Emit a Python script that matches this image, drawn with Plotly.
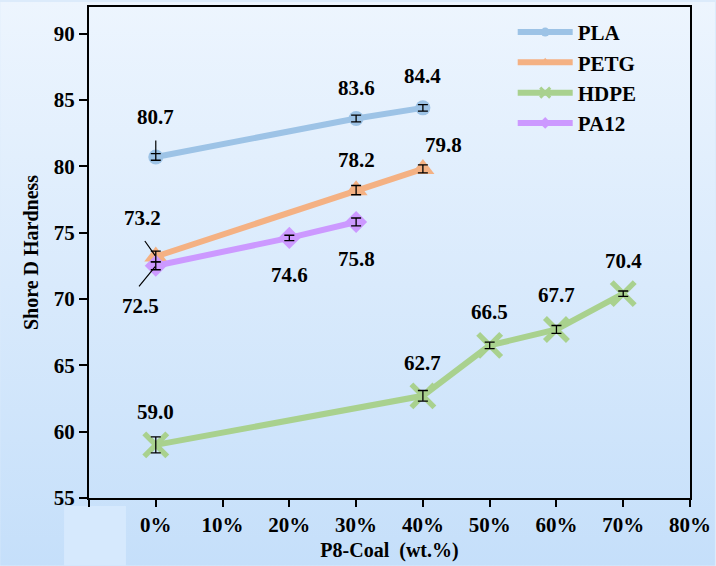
import base64
import plotly.graph_objects as go

# Shore D hardness vs. P8-Coal loading (wt.%)
pla_x = [0, 30, 40]
pla_y = [80.7, 83.6, 84.4]
pla_err = [0.25, 0.25, 0.25]

petg_x = [0, 30, 40]
petg_y = [73.2, 78.2, 79.8]
petg_err = [0.4, 0.35, 0.3]

hdpe_x = [0, 40, 50, 60, 70]
hdpe_y = [59.0, 62.7, 66.5, 67.7, 70.4]
hdpe_err = [0.6, 0.4, 0.25, 0.3, 0.2]

pa12_x = [0, 20, 30]
pa12_y = [72.5, 74.6, 75.8]
pa12_err = [0.3, 0.2, 0.3]

x_ticks = [-10, 0, 10, 20, 30, 40, 50, 60, 70, 80]
x_labels = ["", "0%", "10%", "20%", "30%", "40%", "50%", "60%", "70%", "80%"]
y_ticks = [55, 60, 65, 70, 75, 80, 85, 90]

FONT = "Liberation Serif"
W, H = 716, 566
ML, MR, MT, MB = 89, 25, 5, 68
PW, PH = W - ML - MR, H - MT - MB

series = [
    ("PLA", pla_x, pla_y, pla_err, "#9DC3E6", "circle", 15, 0, 9),
    ("PETG", petg_x, petg_y, petg_err, "#F4B183", "triangle-up", 20, 0, 9),
    ("HDPE", hdpe_x, hdpe_y, hdpe_err, "#A9D18E", "x-thin", 23, 5.5, 10),
    ("PA12", pa12_x, pa12_y, pa12_err, "#CC99FF", "diamond", 17, 0, 9),
]

fig = go.Figure()
# lines and markers
for name, xs, ys, es, col, sym, size, lw, lsize in series:
    marker = dict(symbol=sym, size=size, color=col)
    if lw:
        marker["line"] = dict(width=lw, color=col)
    fig.add_trace(go.Scatter(
        x=xs, y=ys, name=name, mode="lines+markers", showlegend=False,
        line=dict(color=col, width=6), marker=marker,
    ))
# error bars drawn on top of the markers
for name, xs, ys, es, col, sym, size, lw, lsize in series:
    fig.add_trace(go.Scatter(
        x=xs, y=ys, mode="markers", showlegend=False, hoverinfo="skip",
        marker=dict(size=1, opacity=0),
        error_y=dict(type="data", array=es, visible=True,
                     color="black", thickness=1.3, width=5),
    ))
# legend entries with small markers
for name, xs, ys, es, col, sym, size, lw, lsize in series:
    marker = dict(symbol=sym, size=lsize, color=col)
    if lw:
        marker["line"] = dict(width=3, color=col)
    fig.add_trace(go.Scatter(
        x=[None], y=[None], name=name, mode="lines+markers",
        line=dict(color=col, width=6), marker=marker,
    ))

label_font = dict(family=FONT, size=21, color="black", weight="bold")
# value labels: (x, y, xshift, yshift)
labels = [
    (pla_x[0], pla_y[0], 0, 40), (pla_x[1], pla_y[1], 0, 30), (pla_x[2], pla_y[2], 0, 32),
    (petg_x[1], petg_y[1], 0, 30), (petg_x[2], petg_y[2], 21, 24),
    (pa12_x[1], pa12_y[1], 0, -37), (pa12_x[2], pa12_y[2], 0, -37),
    (hdpe_x[0], hdpe_y[0], 0, 33), (hdpe_x[1], hdpe_y[1], 0, 33), (hdpe_x[2], hdpe_y[2], 0, 33),
    (hdpe_x[3], hdpe_y[3], 0, 34), (hdpe_x[4], hdpe_y[4], 0, 33),
    (petg_x[0], petg_y[0], -13, 38), (pa12_x[0], pa12_y[0], -15, -40),
]
for x, y, dx, dy in labels:
    fig.add_annotation(x=x, y=y, text=f"{y:.1f}", showarrow=False,
                       xshift=dx, yshift=dy, font=label_font)

# leader lines
for x, y, ax, ay, so in [(pla_x[0], pla_y[0], 0, -18, 3),
                         (petg_x[0], petg_y[0], -12, -17, 1),
                         (pa12_x[0], pa12_y[0], -18, 22, 1)]:
    fig.add_annotation(x=x, y=y, text="", showarrow=True, arrowhead=0,
                       arrowwidth=1.2, arrowcolor="black", ax=ax, ay=ay, standoff=so)

# soft vertical gradient behind the whole figure
svg = (
    f"<svg xmlns='http://www.w3.org/2000/svg' width='{W}' height='{H}' preserveAspectRatio='none'>"
    "<defs><linearGradient id='g' x1='0' y1='0' x2='0' y2='1'>"
    "<stop offset='0' stop-color='#EDF5FE'/><stop offset='1' stop-color='#C5DFFA'/>"
    "</linearGradient></defs>"
    f"<rect width='{W}' height='{H}' fill='url(#g)'/>"
    f"<rect x='64' y='506' width='62' height='60' fill='#D6E9FD'/></svg>"
)
uri = "data:image/svg+xml;base64," + base64.b64encode(svg.encode()).decode()
fig.add_layout_image(dict(
    source=uri, xref="paper", yref="paper",
    x=-ML / PW, y=1 + MT / PH, sizex=W / PW, sizey=H / PH,
    xanchor="left", yanchor="top", sizing="stretch", layer="below",
))

tick_font = dict(family=FONT, size=21, color="black", weight="bold")
title_font = dict(family=FONT, size=20, color="black", weight="bold")
fig.update_layout(
    width=W, height=H,
    margin=dict(l=ML, r=MR, t=MT, b=MB),
    paper_bgcolor="#DCEBFB", plot_bgcolor="rgba(0,0,0,0)",
    font=dict(family=FONT, color="black"),
    showlegend=True,
    legend=dict(x=0.705, y=0.99, xanchor="left", yanchor="top",
                bgcolor="rgba(0,0,0,0)",
                font=dict(family=FONT, size=21, color="black", weight="bold"),
                itemwidth=55, tracegroupgap=0),
    xaxis=dict(range=[-10, 80], tickmode="array", tickvals=x_ticks,
               ticktext=[f"<b>{t}</b>" if t else "" for t in x_labels],
               showgrid=False, zeroline=False, showline=True, linecolor="black", linewidth=2,
               mirror=True, ticks="outside", ticklen=7, tickwidth=2, tickcolor="black",
               tickfont=tick_font,
               title=dict(text="P8-Coal  (wt.%)", font=title_font, standoff=7)),
    yaxis=dict(range=[55, 92], tickmode="array", tickvals=y_ticks,
               ticktext=[f"<b>{v}</b>" for v in y_ticks],
               showgrid=False, zeroline=False, showline=True, linecolor="black", linewidth=2,
               mirror=True, ticks="outside", ticklen=8, tickwidth=2, tickcolor="black",
               tickfont=tick_font,
               title=dict(text="Shore D Hardness", font=title_font, standoff=10)),
)

fig.write_html("out.html")
